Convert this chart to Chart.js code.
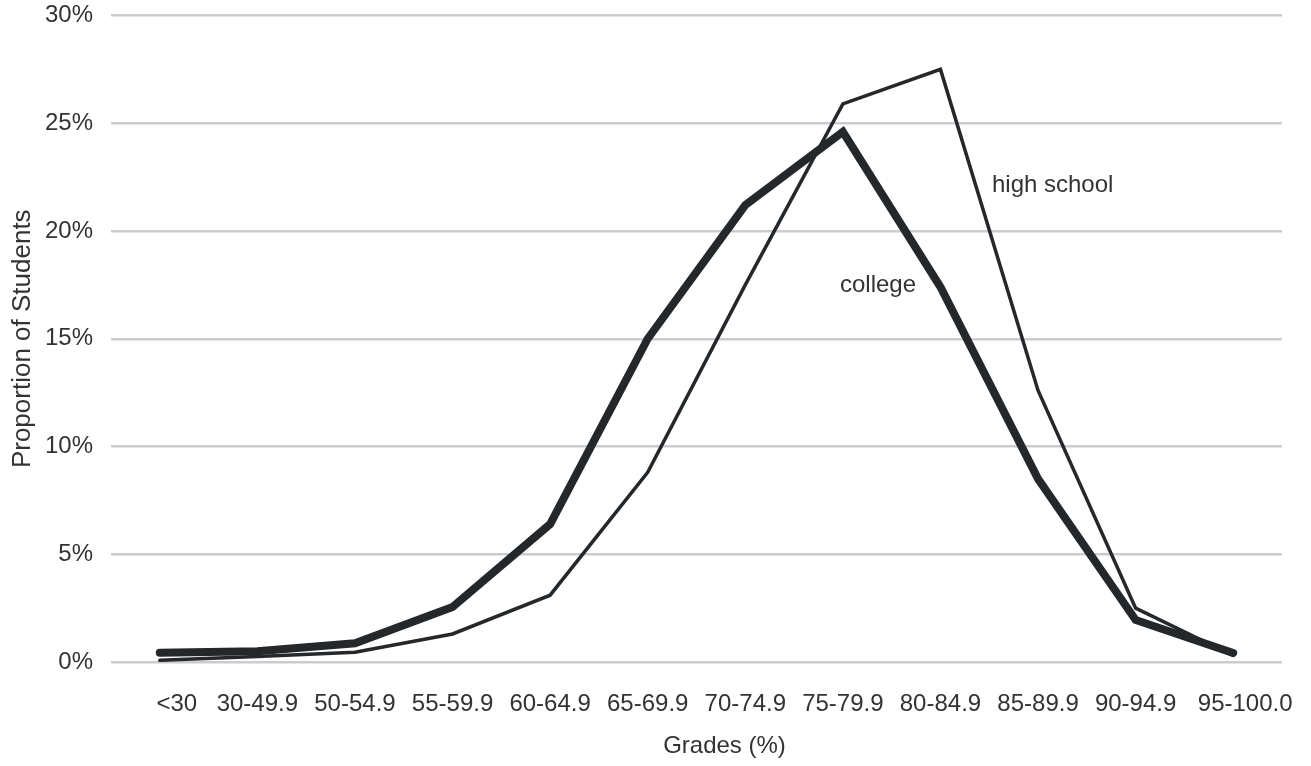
<!DOCTYPE html>
<html>
<head>
<meta charset="utf-8">
<script src="https://cdn.jsdelivr.net/npm/chart.js@4/dist/chart.umd.min.js"></script>
<style>
    html, body { margin: 0; padding: 0; background: #fff; }
    #wrap { width: 1311px; height: 766px; position: relative; }
</style>
</head>
<body>
<div id="wrap"><canvas id="lineChart"></canvas></div>
<script>
// Данные графика
const categories = ['<30', '30-49.9', '50-54.9', '55-59.9', '60-64.9', '65-69.9',
    '70-74.9', '75-79.9', '80-84.9', '85-89.9', '90-94.9', '95-100.0'];
const collegeValues = [0.43, 0.5, 0.87, 2.55, 6.4, 15.0, 21.2, 24.6, 17.4, 8.5, 1.95, 0.42];
const highSchoolValues = [0.08, 0.25, 0.45, 1.3, 3.1, 8.8, 17.5, 25.9, 27.5, 12.6, 2.5, 0.3];
const yTicks = [0, 5, 10, 15, 20, 25, 30];

const lineColor = '#25282b';
const textColor = '#333333';
const fontFamily = '"Liberation Sans", Arial, sans-serif';
// Сдвиг крайних подписей оси X (как в оригинале)
const firstLabelShift = 17;
const lastLabelShift = 12;

// Подписи категорий, серий и заголовок оси X рисуем сами
const labelsPlugin = {
    id: 'seriesLabels',
    afterDraw(chart) {
        const ctx = chart.ctx;
        const x = chart.scales.x;
        const y = chart.scales.y;
        const area = chart.chartArea;
        ctx.save();
        ctx.fillStyle = textColor;
        ctx.font = '24px ' + fontFamily;
        ctx.textAlign = 'center';
        ctx.textBaseline = 'middle';
        categories.forEach(function(label, i) {
            let shift = 0;
            if (i === 0) shift = firstLabelShift;
            if (i === categories.length - 1) shift = lastLabelShift;
            ctx.fillText(label, x.getPixelForValue(i) + shift, area.bottom + 42);
        });
        ctx.fillText('college', x.getPixelForValue(7.36), y.getPixelForValue(17.5));
        ctx.fillText('high school', x.getPixelForValue(9.15), y.getPixelForValue(22.1));
        ctx.fillText('Grades (%)', (area.left + area.right) / 2 + 28, 746);
        ctx.restore();
    }
};

new Chart(document.getElementById('lineChart'), {
    type: 'line',
    data: {
        labels: categories,
        datasets: [
            {
                label: 'high school',
                data: highSchoolValues,
                borderColor: lineColor,
                borderWidth: 3.5,
                pointRadius: 0,
                tension: 0,
                borderCapStyle: 'round',
                borderJoinStyle: 'miter',
                fill: false
            },
            {
                label: 'college',
                data: collegeValues,
                borderColor: lineColor,
                borderWidth: 8,
                pointRadius: 0,
                tension: 0,
                borderCapStyle: 'round',
                borderJoinStyle: 'miter',
                fill: false
            }
        ]
    },
    options: {
        responsive: true,
        maintainAspectRatio: false,
        animation: false,
        layout: {
            padding: { top: 0, right: 29, left: 0, bottom: 0 }
        },
        plugins: {
            legend: { display: false },
            tooltip: { enabled: false }
        },
        scales: {
            x: {
                offset: true,
                grid: { display: false, drawTicks: false },
                border: { display: false },
                ticks: { display: false, autoSkip: false },
                afterFit: function(scale) { scale.height = 104; }
            },
            y: {
                min: 0,
                max: 30,
                afterBuildTicks: function(scale) {
                    scale.ticks = yTicks.map(v => ({ value: v }));
                },
                grid: { color: '#cbcbd0', lineWidth: 2.5, drawTicks: false },
                border: { display: false },
                ticks: {
                    color: textColor,
                    font: { family: fontFamily, size: 24 },
                    padding: 18,
                    callback: function(value) { return value + '%'; }
                },
                title: {
                    display: true,
                    text: 'Proportion of Students',
                    color: textColor,
                    font: { family: fontFamily, size: 26 },
                    padding: { top: 7, bottom: 0 }
                },
                afterFit: function(scale) {
                    scale.width = 111;
                    scale.paddingTop = 15.5;
                    scale.paddingBottom = 0;
                }
            }
        }
    },
    plugins: [labelsPlugin]
});
</script>
</body>
</html>
